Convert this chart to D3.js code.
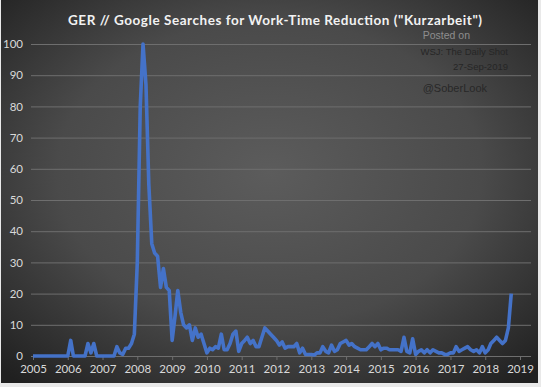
<!DOCTYPE html>
<html>
<head>
<meta charset="utf-8">
<script src="https://cdn.jsdelivr.net/npm/d3@7"></script>
<style>
    html, body { margin: 0; padding: 0; background: #e9e9e9; }
    svg { display: block; }
</style>
</head>
<body>
<svg id="chart"></svg>
<script>
    "use strict"
    const width = 541;
    const height = 387;

    // monthly Google Trends index, Jan 2005 .. Oct 2018
    const startMonth = new Date(2005, 0, 1);
    const searches = [
        0, 0, 0, 0, 0, 0, 0, 0, 0, 0, 0, 0,
        0, 5, 0, 0, 0, 0, 0, 4, 1, 4, 0, 0,
        0, 0, 0, 0, 0, 3, 1, 0.5, 2.5, 2.5, 4, 7,
        30, 80, 100, 87, 55, 36, 33, 32, 22, 28, 22, 21,
        5, 13, 21, 14, 10, 9, 10, 5, 9, 6, 7, 4,
        1, 2.5, 2, 3, 2.5, 7, 2, 2, 4, 7, 8, 1.5,
        4, 5, 6, 4, 5, 3, 3, 6, 9, 8, 7, 6,
        5, 3.5, 4.5, 2.5, 3, 3, 3, 4, 1, 2.5, 0.5, 0.5,
        0.5, 0.3, 1, 1, 3, 1.5, 1, 3.5, 1.5, 2, 4, 4.5,
        5, 3.5, 4, 3, 2.5, 2, 2, 2, 3, 4, 3, 4,
        2, 2.5, 2.5, 2, 2, 2, 2, 1.5, 6, 1.5, 1, 5.5,
        0.5, 1.5, 2, 1, 2, 1, 2, 1.5, 1, 1, 0.5, 0.5,
        1, 1, 3, 1.5, 2, 2.5, 3, 2, 1.5, 2, 1, 3,
        1, 2, 4, 5, 6, 5, 4, 5, 9, 20
    ];
    const months = d3.timeMonth.range(startMonth, d3.timeMonth.offset(startMonth, searches.length));
    const yearTicks = d3.range(2005, 2020);
    const valueTicks = d3.range(0, 101, 10);

    const title = "GER // Google Searches for Work-Time Reduction (\"Kurzarbeit\")";

    const svg = d3.select("#chart")
        .attr("width", width)
        .attr("height", height);

    const defs = svg.append("defs");
    const grad = defs.append("radialGradient")
        .attr("id", "bg")
        .attr("cx", "50%").attr("cy", "45%").attr("r", "72%");
    grad.append("stop").attr("offset", "0%").attr("stop-color", "#5c5c5c");
    grad.append("stop").attr("offset", "55%").attr("stop-color", "#4a4a4a");
    grad.append("stop").attr("offset", "100%").attr("stop-color", "#202020");

    svg.append("rect")
        .attr("x", 1).attr("y", 0)
        .attr("width", 537).attr("height", 383)
        .attr("fill", "url(#bg)");

    const x = d3.scaleTime()
        .domain([new Date(2005, 0, 1), new Date(2019, 0, 1)])
        .range([33, 520]);

    const y = d3.scaleLinear()
        .domain([0, 100])
        .range([356, 44]);

    // gridlines
    svg.append("g")
        .selectAll("line")
        .data(valueTicks)
        .join("line")
        .attr("x1", 31).attr("x2", 531)
        .attr("y1", d => y(d) + 0.5).attr("y2", d => y(d) + 0.5)
        .attr("stroke", "#6e6e6e")
        .attr("stroke-width", 1);

    // y axis labels
    const yAxis = d3.axisLeft(y)
        .tickValues(valueTicks)
        .tickSize(0)
        .tickPadding(0);
    const gy = svg.append("g")
        .attr("transform", "translate(23,0)")
        .call(yAxis);
    gy.select(".domain").remove();
    gy.selectAll("text")
        .attr("fill", "#d9d9d9")
        .style("font-family", "Lato, 'Open Sans', sans-serif")
        .style("font-size", "11.5px");

    // x axis
    const xAxis = d3.axisBottom(x)
        .tickValues(yearTicks.map(yr => new Date(yr, 0, 1)))
        .tickFormat(d3.timeFormat("%Y"))
        .tickSize(4)
        .tickPadding(5);
    const gx = svg.append("g")
        .attr("transform", "translate(0,356)")
        .call(xAxis);
    gx.select(".domain").attr("stroke", "#6e6e6e").attr("d", "M31,0.5H531");
    gx.selectAll(".tick line").attr("stroke", "#6e6e6e");
    gx.selectAll("text")
        .attr("fill", "#d9d9d9")
        .style("font-family", "Lato, 'Open Sans', sans-serif")
        .style("font-size", "11.5px");

    // line
    const line = d3.line()
        .x((d, i) => x(months[i]))
        .y(d => y(d));

    svg.append("path")
        .datum(searches)
        .attr("fill", "none")
        .attr("stroke", "#4472c8")
        .attr("stroke-width", 3.6)
        .attr("stroke-linejoin", "round")
        .attr("d", line);

    // title
    svg.append("text")
        .attr("x", 68).attr("y", 25)
        .attr("textLength", 414)
        .attr("lengthAdjust", "spacing")
        .attr("fill", "#f2f2f2")
        .style("font-family", "Lato, 'Open Sans', sans-serif")
        .style("font-weight", "bold")
        .style("font-size", "13.5px")
        .text(title);

    // source notes
    const notes = [
        { text: "Posted on", x: 470, y: 39, size: 10.5, color: "#8e8e8e" },
        { text: "WSJ: The Daily Shot", x: 508, y: 55, size: 9.5, color: "#262626" },
        { text: "27-Sep-2019", x: 508, y: 70, size: 9.5, color: "#262626" },
        { text: "@SoberLook", x: 487, y: 92, size: 11, color: "#282828" }
    ];
    svg.append("g")
        .selectAll("text")
        .data(notes)
        .join("text")
        .attr("x", d => d.x).attr("y", d => d.y)
        .attr("text-anchor", "end")
        .attr("fill", d => d.color)
        .style("font-family", "'Liberation Sans', Arial, sans-serif")
        .style("font-size", d => d.size + "px")
        .text(d => d.text);
</script>
</body>
</html>
